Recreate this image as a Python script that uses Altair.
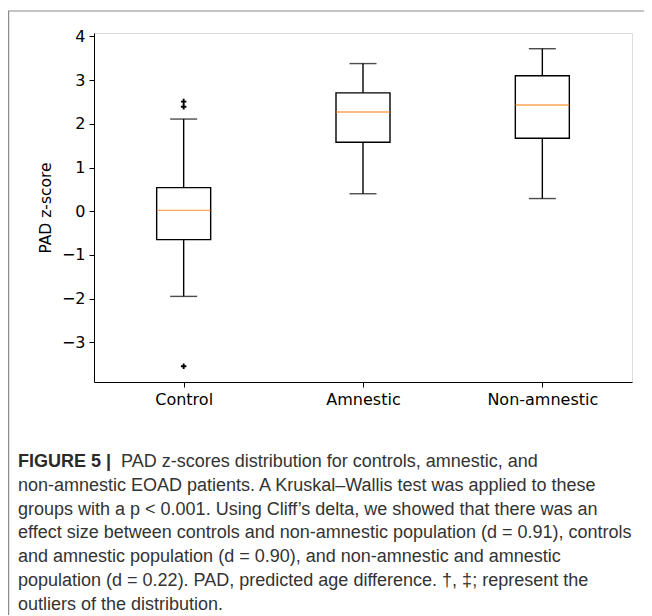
import altair as alt
import pandas as pd

# ---- data ----
groups = ["Control", "Amnestic", "Non-amnestic"]
whisker_low = [-1.95, 0.40, 0.29]
q1 = [-0.65, 1.58, 1.67]
median = [0.02, 2.27, 2.43]
q3 = [0.54, 2.71, 3.10]
whisker_high = [2.11, 3.38, 3.72]
outlier_group = ["Control", "Control", "Control"]
outlier_value = [2.51, 2.39, -3.55]
y_ticks = [-3, -2, -1, 0, 1, 2, 3, 4]

caption_bold = "FIGURE 5 |"
caption_lines = [
    "PAD z-scores distribution for controls, amnestic, and",
    "non-amnestic EOAD patients. A Kruskal\u2013Wallis test was applied to these",
    "groups with a p < 0.001. Using Cliff\u2019s delta, we showed that there was an",
    "effect size between controls and non-amnestic population (d = 0.91), controls",
    "and amnestic population (d = 0.90), and non-amnestic and amnestic",
    "population (d = 0.22). PAD, predicted age difference. \u2020, \u2021; represent the",
    "outliers of the distribution.",
]

stats = pd.DataFrame({
    "group": groups, "lo": whisker_low, "q1": q1, "med": median,
    "q3": q3, "hi": whisker_high,
})
outliers = pd.DataFrame({"group": outlier_group, "v": outlier_value})

# ---- layout ----
W, H = 538, 349
PAD_L, PAD_T, PAD_R, PAD_B = 86, 25, 12, 233
BOX_W = 54
CAP_W = 27
LW = 1.4

xscale = alt.Scale(type="point", domain=groups, padding=0.5)
yscale = alt.Scale(domain=[-3.91, 4.08], nice=False, zero=False)

x_enc = alt.X("group:N", scale=xscale, sort=groups,
              axis=alt.Axis(title=None, labelAngle=0, labelFontSize=16,
                            labelFont="DejaVu Sans", labelColor="black",
                            tickColor="black", tickSize=5, labelPadding=4,
                            domainColor="black"))
y_axis = alt.Axis(title="PAD z-score", values=y_ticks, grid=False,
                  labelFontSize=16, labelFont="DejaVu Sans", labelColor="black",
                  tickColor="black", tickSize=5, labelPadding=4,
                  domainColor="black", titleFont="DejaVu Sans",
                  titleFontSize=15.5, titleFontWeight="normal",
                  titleColor="black", titlePadding=8)

base = alt.Chart(stats)

whisk_low = base.mark_rule(color="black", strokeWidth=LW).encode(
    x=x_enc, y=alt.Y("lo:Q", scale=yscale, axis=y_axis), y2="q1:Q")
whisk_high = base.mark_rule(color="black", strokeWidth=LW).encode(
    x=x_enc, y=alt.Y("q3:Q", scale=yscale), y2="hi:Q")
box = base.mark_bar(size=BOX_W, fill="white", stroke="black",
                    strokeWidth=LW).encode(
    x=x_enc, y=alt.Y("q1:Q", scale=yscale), y2="q3:Q")
med = base.mark_tick(size=BOX_W, thickness=LW, color="#ff7f0e",
                     orient="horizontal").encode(
    x=x_enc, y=alt.Y("med:Q", scale=yscale))
cap_lo = base.mark_tick(size=CAP_W, thickness=LW, color="black",
                        orient="horizontal").encode(
    x=x_enc, y=alt.Y("lo:Q", scale=yscale))
cap_hi = base.mark_tick(size=CAP_W, thickness=LW, color="black",
                        orient="horizontal").encode(
    x=x_enc, y=alt.Y("hi:Q", scale=yscale))
fliers = alt.Chart(outliers).mark_point(
    shape="M-1,0L1,0M0,-1L0,1", size=30, color="black",
    strokeWidth=1.9, filled=False, opacity=1).encode(
    x=x_enc, y=alt.Y("v:Q", scale=yscale))

one = pd.DataFrame({"a": [0]})
frame_left = alt.Chart(one).mark_rule(color="#8a8a8a", strokeWidth=1.2).encode(
    x=alt.value(-PAD_L + 0.6), y=alt.value(-PAD_T + 3), y2=alt.value(H + PAD_B))
frame_top = alt.Chart(one).mark_rule(color="#8a8a8a", strokeWidth=1.2).encode(
    x=alt.value(-PAD_L), x2=alt.value(W + PAD_R), y=alt.value(-PAD_T + 3))

cap_x = -PAD_L + 10
cap_y0 = 429
cap_dy = 23.8
FS = 18
cap_layers = [
    alt.Chart(pd.DataFrame({"t": [caption_bold]})).mark_text(
        align="left", baseline="middle", font="Liberation Sans",
        fontSize=FS, fontWeight="bold", color="#2a2a2a").encode(
        text="t:N", x=alt.value(cap_x), y=alt.value(cap_y0))
]
for i, line in enumerate(caption_lines):
    xoff = cap_x + 103 if i == 0 else cap_x
    cap_layers.append(
        alt.Chart(pd.DataFrame({"t": [line]})).mark_text(
            align="left", baseline="middle", font="Liberation Sans",
            fontSize=FS, color="#333333").encode(
            text="t:N", x=alt.value(xoff), y=alt.value(cap_y0 + i * cap_dy)))

chart = alt.layer(
    whisk_low, whisk_high, box, med, cap_lo, cap_hi, fliers,
    frame_left, frame_top, *cap_layers
).properties(
    width=W, height=H,
    autosize=alt.AutoSizeParams(type="none"),
    padding={"left": PAD_L, "top": PAD_T, "right": PAD_R, "bottom": PAD_B},
).configure_view(stroke="black", strokeWidth=1.1).configure(background="white")

chart.save("out.html", embed_options={"renderer": "svg", "actions": False})
